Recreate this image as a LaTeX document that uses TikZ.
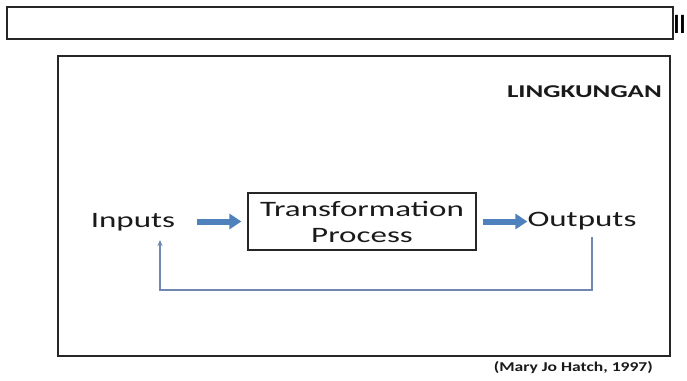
\documentclass[tikz,border=0pt]{standalone}
\usepackage{fontspec}
\usetikzlibrary{arrows.meta}
\setmainfont{Carlito}
\newfontfamily\wfont[FakeStretch=1.5]{Carlito}
\newfontfamily\cfont[FakeStretch=1.3]{Carlito}
\newfontfamily\nfont[FakeStretch=0.8]{Carlito}
\definecolor{boxblue}{HTML}{4F81BD}
\definecolor{fbblue}{HTML}{7088B0}
\definecolor{txt}{HTML}{1A1A1A}
\tikzset{
  x=1pt, y=1pt,
  frame/.style={draw=black!85, line width=2pt},
  bigtext/.style={font=\wfont\fontsize{22}{26}\selectfont, text=txt, inner sep=0pt},
  blockarrow/.style={draw=boxblue, line width=6pt, -{Triangle[length=12pt,width=15pt]}},
  fb/.style={draw=fbblue, line width=1.4pt, -{Stealth[length=6pt,width=5pt]}},
  procbox/.style={draw=black!85, line width=1.2pt, minimum width=228pt, minimum height=57pt, align=center, bigtext}
}
\begin{document}
\begin{tikzpicture}
\useasboundingbox (0,0) rectangle (687,-380);
\fill[white] (0,0) rectangle (687,-380);
% top banner
\draw[frame] (7,-7) rectangle (673,-39);
\node[anchor=west, inner sep=0pt, font=\nfont\bfseries\fontsize{28}{28}\selectfont] (ttl) at (673.5,-24) {II};
% environment frame
\draw[frame] (58,-56) rectangle (670,-356);
\node[anchor=base east, inner sep=0pt, font=\wfont\bfseries\fontsize{18}{20}\selectfont, text=txt] (env) at (662,-97) {LINGKUNGAN};
% main nodes
\node[bigtext, anchor=base] (in) at (133,-227) {Inputs};
\node[procbox] (tp) at (362,-221.5) {Transformation\\Process};
\node[bigtext, anchor=base] (out) at (582,-226) {Outputs};
% block arrows
\draw[blockarrow, shorten <=22pt] (in.east |- tp.west) -- ([xshift=-6pt]tp.west);
\draw[blockarrow, shorten <=6pt] (tp.east) -- (out.west |- tp.east);
% feedback
\coordinate (fbs) at (592,-237);
\coordinate (fbe) at (160,-240);
\draw[fb] (fbs) -- (592,-290) -| (fbe);
% caption
\node[anchor=base east, inner sep=0pt, font=\cfont\bfseries\fontsize{13.5}{15}\selectfont, text=txt] (cap) at (653,-371) {(Mary Jo Hatch, 1997)};
\end{tikzpicture}
\end{document}
